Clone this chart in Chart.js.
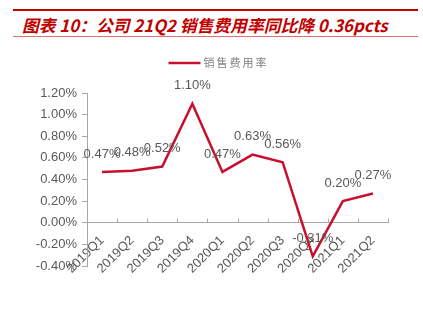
<!DOCTYPE html>
<html>
<head>
<meta charset="utf-8">
<script src="https://cdn.jsdelivr.net/npm/chart.js@4/dist/chart.umd.min.js"></script>
<style>
  html, body { margin: 0; padding: 0; background: #fff; }
  #wrap { position: relative; width: 423px; height: 323px; overflow: hidden; }
  #head {
    position: absolute; left: 13px; top: 9px; width: 405px; height: 28px;
    border-top: 2px solid #c00000; border-bottom: 1px solid #e07070;
    box-sizing: border-box;
  }
  #head span {
    position: absolute; left: 9px; top: 4px; white-space: nowrap;
    font-family: "Noto Sans CJK SC", "Liberation Sans", sans-serif;
    font-weight: bold; font-style: italic; font-size: 16.8px; line-height: 20px;
    color: #c00000;
  }
  #chartBox { position: absolute; left: 0; top: 0; width: 423px; height: 323px; }
</style>
</head>
<body>
<div id="wrap">
  <div id="head"><span>图表 10：公司 21Q2 销售费用率同比降 0.36pcts</span></div>
  <div id="chartBox"><canvas id="chartCanvas"></canvas></div>
</div>
<script>
  /********** DATI **********/
  const quarters = ["2019Q1", "2019Q2", "2019Q3", "2019Q4", "2020Q1",
                    "2020Q2", "2020Q3", "2020Q4", "2021Q1", "2021Q2"];
  const salesExpenseRate = [0.47, 0.48, 0.52, 1.10, 0.47, 0.63, 0.56, -0.31, 0.20, 0.27];
  const seriesName = "销售费用率";
  const yTicks = [-0.4, -0.2, 0, 0.2, 0.4, 0.6, 0.8, 1.0, 1.2];

  const lineColor = "#c8102e";
  const textGray = "#595959";
  const axisGray = "#a6a6a6";

  // legenda disegnata a mano: linea + testo spaziato
  const lineLegend = {
    id: "lineLegend",
    afterDraw(chart) {
      const ctx = chart.ctx;
      const ds = chart.data.datasets[0];
      const yMid = 63;
      const x0 = chart.width / 2 - 43;
      ctx.save();
      ctx.strokeStyle = ds.borderColor;
      ctx.lineWidth = 2.5;
      ctx.beginPath();
      ctx.moveTo(x0, yMid);
      ctx.lineTo(x0 + 32, yMid);
      ctx.stroke();
      ctx.font = "11px 'Noto Sans CJK SC', sans-serif";
      ctx.letterSpacing = "2px";
      ctx.fillStyle = "#7f7f7f";
      ctx.textAlign = "left";
      ctx.textBaseline = "middle";
      ctx.fillText(ds.label, x0 + 35, yMid);
      ctx.restore();
    }
  };

  // etichette dei valori sopra ogni punto
  const valueLabels = {
    id: "valueLabels",
    afterDatasetsDraw(chart) {
      const ctx = chart.ctx;
      const meta = chart.getDatasetMeta(0);
      ctx.save();
      ctx.font = "13px 'Liberation Sans', Arial, sans-serif";
      ctx.fillStyle = textGray;
      ctx.textAlign = "center";
      ctx.textBaseline = "middle";
      meta.data.forEach((pt, i) => {
        ctx.fillText(salesExpenseRate[i].toFixed(2) + "%", pt.x, pt.y - 18);
      });
      ctx.restore();
    }
  };

  // piccoli segni di graduazione sull'asse x (verso l'alto)
  const xTickMarks = {
    id: "xTickMarks",
    afterDraw(chart) {
      const x = chart.scales.x, y = chart.scales.y;
      const y0 = y.getPixelForValue(0);
      const ctx = chart.ctx;
      ctx.save();
      ctx.strokeStyle = axisGray;
      ctx.lineWidth = 1;
      ctx.beginPath();
      for (let i = 0; i <= quarters.length; i++) {
        const px = Math.round(x.left + (x.right - x.left) * i / quarters.length) + 0.5;
        ctx.moveTo(px, y0);
        ctx.lineTo(px, y0 - 4);
      }
      ctx.stroke();
      ctx.restore();
    }
  };

  const ctx = document.getElementById("chartCanvas").getContext("2d");
  new Chart(ctx, {
    type: "line",
    data: {
      labels: quarters,
      datasets: [{
        label: seriesName,
        data: salesExpenseRate,
        borderColor: lineColor,
        backgroundColor: lineColor,
        borderWidth: 2.5,
        pointRadius: 0,
        tension: 0
      }]
    },
    options: {
      responsive: true,
      maintainAspectRatio: false,
      animation: false,
      layout: { padding: { top: 93, right: 35, bottom: 57, left: 0 } },
      plugins: {
        legend: { display: false },
        tooltip: { enabled: false }
      },
      scales: {
        x: {
          type: "category",
          offset: true,
          position: { y: 0 },
          grid: { display: false },
          border: { display: true, color: axisGray, width: 1 },
          ticks: {
            color: textGray,
            font: { family: "'Liberation Sans', Arial, sans-serif", size: 13 },
            minRotation: 45, maxRotation: 45,
            padding: 2, autoSkip: false
          }
        },
        y: {
          min: -0.4, max: 1.2,
          afterFit(scale) { scale.width = 87; },
          afterBuildTicks(scale) { scale.ticks = yTicks.map(v => ({ value: v })); },
          grid: { drawOnChartArea: false, tickLength: 5, color: axisGray },
          border: { display: true, color: axisGray, width: 1 },
          ticks: {
            color: textGray,
            font: { family: "'Liberation Sans', Arial, sans-serif", size: 13 },
            padding: 5,
            callback: v => v.toFixed(2) + "%"
          }
        }
      }
    },
    plugins: [valueLabels, xTickMarks, lineLegend]
  });
</script>
</body>
</html>
